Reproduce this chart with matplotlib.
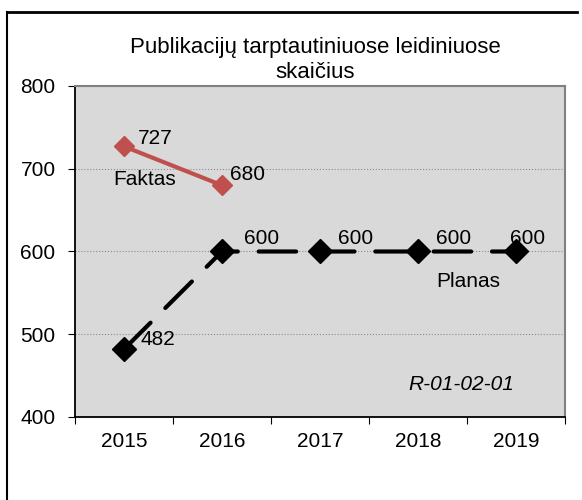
import matplotlib.pyplot as plt
from matplotlib.lines import Line2D

plt.rcParams['font.family'] = ['Liberation Sans', 'DejaVu Sans']

years = ['2015', '2016', '2017', '2018', '2019']
faktas = [727, 680]
planas = [482, 600, 600, 600, 600]
title = 'Publikacijų tarptautiniuose leidiniuose\nskaičius'

W, H = 582, 500
fs = 15

fig = plt.figure(figsize=(W / 100, H / 100), dpi=100)
ax = fig.add_axes([75 / W, 83 / H, 490 / W, 331 / H])
ax.set_facecolor('#d9d9d9')

# outer frame of the chart (only top and left edges are visible)
fig.add_artist(Line2D([7 / W, 577 / W], [1 - 12 / H, 1 - 12 / H],
                      transform=fig.transFigure, color='black', linewidth=2))
fig.add_artist(Line2D([7 / W, 7 / W], [1 - 12 / H, 0],
                      transform=fig.transFigure, color='black', linewidth=1.5))

xs = list(range(len(years)))

ax.plot(xs, planas, color='black', linewidth=3, dashes=(9, 5),
        dash_capstyle='round', marker='D', markersize=12, zorder=3)
ax.plot(xs[:len(faktas)], faktas, color='#c0504d', linewidth=3,
        marker='D', markersize=10, zorder=4)

fakt_off = [(10, 6), (6, 8)]
for i, v in enumerate(faktas):
    ax.annotate(str(v), (i, v), xytext=fakt_off[i], textcoords='offset points',
                fontsize=fs, ha='left', va='center')
for i, v in enumerate(planas):
    if i == 0:
        off = (12, 7)
    elif i == len(planas) - 1:
        off = (-4, 9)
    elif i == 1:
        off = (16, 9)
    else:
        off = (13, 9)
    ax.annotate(str(v), (i, v), xytext=off, textcoords='offset points',
                fontsize=fs, ha='left', va='center')

ax.text(0.21, 687, 'Faktas', fontsize=fs, ha='center', va='center')
ax.text(3.51, 564, 'Planas', fontsize=fs, ha='center', va='center')
ax.text(3.44, 439, 'R-01-02-01', fontsize=fs, ha='center', va='center',
        style='italic')

ax.set_xlim(-0.5, 4.5)
ax.set_ylim(400, 800)
ax.set_yticks([400, 500, 600, 700, 800])
ax.set_xticks([x + 0.5 for x in range(-1, len(years))])
ax.set_xticklabels([])
ax.set_xticks(xs, minor=True)
ax.set_xticklabels(years, minor=True)
ax.tick_params(axis='x', which='minor', length=0, pad=11, labelsize=fs)
ax.tick_params(axis='x', which='major', length=5, direction='out')
ax.tick_params(axis='y', length=5, direction='out', labelsize=fs, pad=9)
ax.grid(axis='y', color='#8c8c8c', linestyle=':', linewidth=0.8)
ax.set_axisbelow(True)

for s in ['left', 'bottom']:
    ax.spines[s].set_color('black')
    ax.spines[s].set_linewidth(1.3)
for s in ['top', 'right']:
    ax.spines[s].set_color('#808080')
    ax.spines[s].set_linewidth(1.5)

fig.text(315 / W, 1 - 60 / H, title, fontsize=16, ha='center',
         va='center', linespacing=1.2)

fig.savefig('out.png', dpi=100)
